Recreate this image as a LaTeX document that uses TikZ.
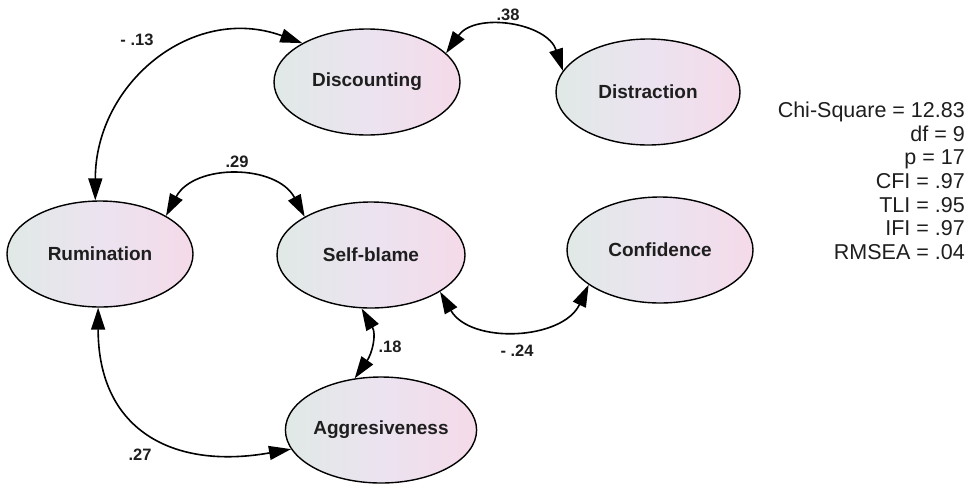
\documentclass[tikz,border=0pt]{standalone}
\usepackage{fontspec}
\setmainfont{Liberation Sans}
\usetikzlibrary{shapes.geometric,arrows.meta}
\definecolor{elleft}{RGB}{224,233,230}
\definecolor{elmid}{RGB}{236,227,240}
\definecolor{elright}{RGB}{245,218,233}
\definecolor{txt}{RGB}{30,30,30}
\tikzset{
  latent/.style={ellipse, draw=black, line width=1.4pt, minimum width=186pt, minimum height=106pt,
    inner sep=0pt, left color=elleft, right color=elright, middle color=elmid,
    font=\fontsize{19}{21}\selectfont\bfseries, text=txt},
  cov/.style={line width=1.6pt, {Triangle[length=22pt,width=14pt]}-{Triangle[length=22pt,width=14pt]}},
  lbl/.style={font=\fontsize{16.5}{18}\selectfont\bfseries, text=txt, inner sep=0pt},
}
\begin{document}
\begin{tikzpicture}[x=1pt,y=-1pt]
\useasboundingbox (0,0) rectangle (973,485);
\node[latent] (disc) at (367,82) {Discounting};
\node[latent, minimum width=184pt] (dist) at (648,92) {Distraction};
\node[latent] (rum) at (100,254) {Rumination};
\node[latent, minimum width=188pt] (sb) at (371,255) {Self-blame};
\node[latent] (agg) at (381,430) {Aggresiveness};
\node[latent] (conf) at (660,250) {Confidence};

\draw[cov] (rum.95) to[out=90,in=160,looseness=1.15] (disc.149);
\draw[cov] (disc.20) to[out=55,in=108,looseness=1.1] (dist.166);
\draw[cov] (rum.30) to[out=62,in=118,looseness=1.1] (sb.150);
\draw[cov] (sb.-100) to[out=-60,in=55,looseness=1.1] (agg.117);
\draw[cov] (sb.-28) to[out=-60,in=-115,looseness=1.05] (conf.206);
\draw[cov] (rum.-92) to[out=-90,in=190,looseness=1.3] (agg.192);

\node[lbl] (l13) at (137,40) {- .13};
\node[lbl] (l38) at (508,15) {.38};
\node[lbl] (l29) at (237,162) {.29};
\node[lbl] (l18) at (390,347) {.18};
\node[lbl] (l24) at (517,351) {- .24};
\node[lbl] (l27) at (140,455) {.27};

\node[anchor=north east, align=right, inner sep=0pt, text=txt,
  font=\fontsize{21.5}{23.6}\selectfont] (fit) at (965,102)
  {Chi-Square = 12.83\\df = 9\\p = 17\\CFI = .97\\TLI = .95\\IFI = .97\\RMSEA = .04};
\end{tikzpicture}
\end{document}
